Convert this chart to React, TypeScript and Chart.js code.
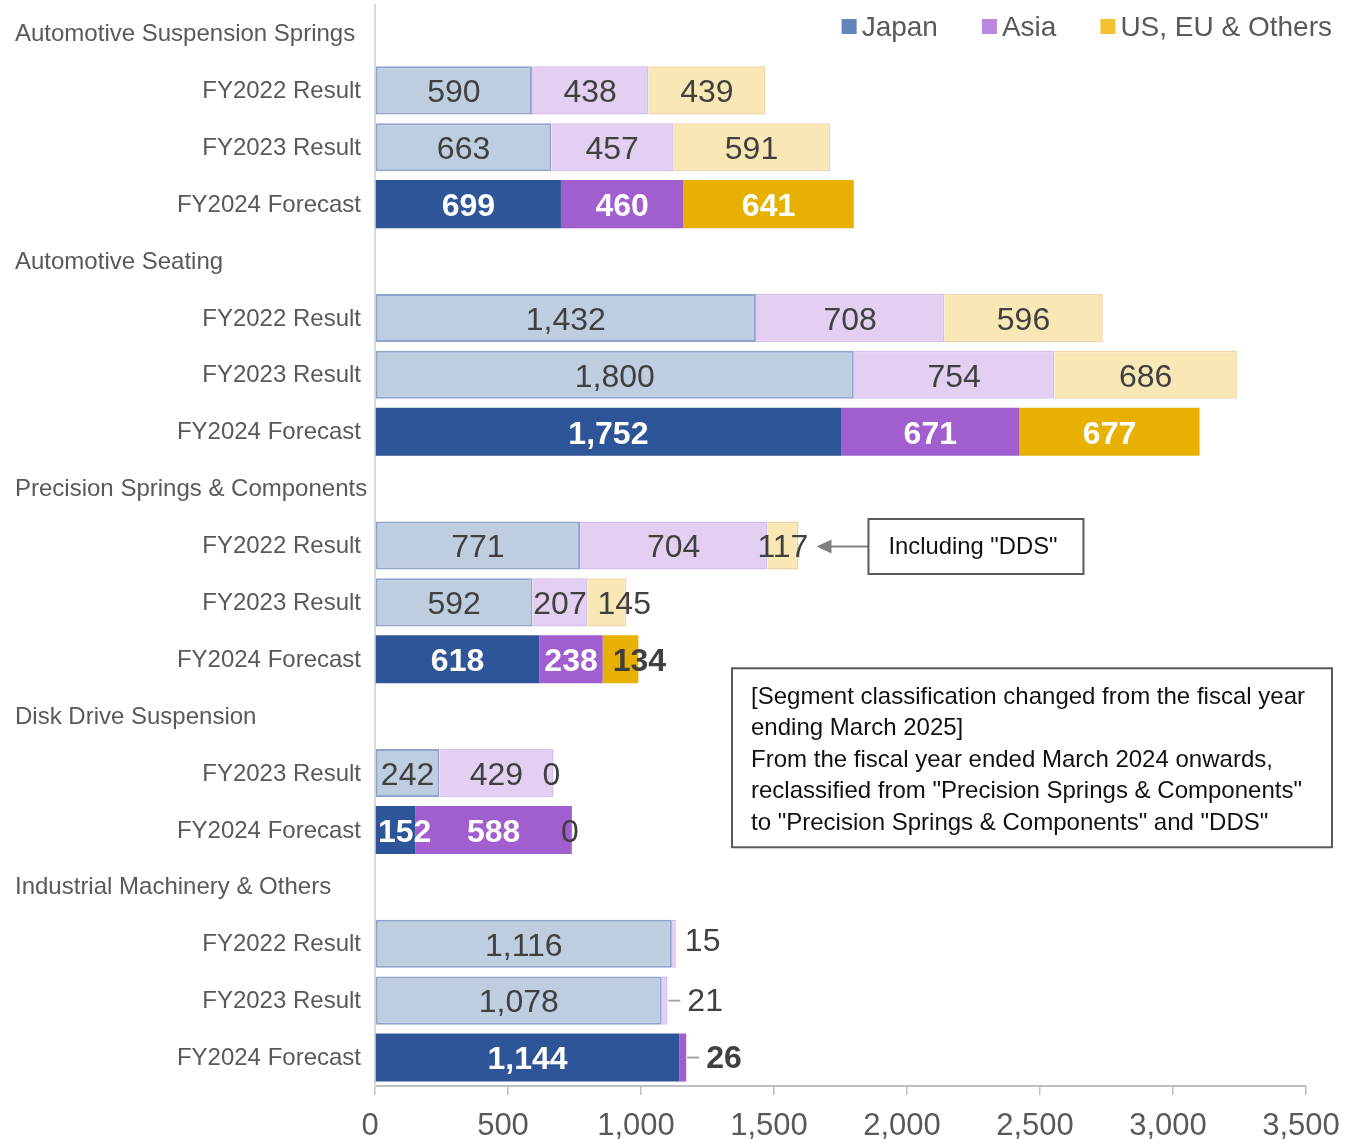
import React, { useEffect, useRef } from 'react';
import { Chart, registerables } from 'chart.js';

Chart.register(...registerables);

const categories = [
  'Automotive Suspension Springs', 'FY2022 Result', 'FY2023 Result', 'FY2024 Forecast',
  'Automotive Seating', 'FY2022 Result', 'FY2023 Result', 'FY2024 Forecast',
  'Precision Springs & Components', 'FY2022 Result', 'FY2023 Result', 'FY2024 Forecast',
  'Disk Drive Suspension', 'FY2023 Result', 'FY2024 Forecast',
  'Industrial Machinery & Others', 'FY2022 Result', 'FY2023 Result', 'FY2024 Forecast',
];
const rowKinds = [
  'header', 'result', 'result', 'forecast',
  'header', 'result', 'result', 'forecast',
  'header', 'result', 'result', 'forecast',
  'header', 'result', 'forecast',
  'header', 'result', 'result', 'forecast',
];
const seriesNames = ['Japan', 'Asia', 'US, EU & Others'];
const japan = [null, 590, 663, 699, null, 1432, 1800, 1752, null, 771, 592, 618, null, 242, 152, null, 1116, 1078, 1144];
const asia = [null, 438, 457, 460, null, 708, 754, 671, null, 704, 207, 238, null, 429, 588, null, 15, 21, 26];
const usEu = [null, 439, 591, 641, null, 596, 686, 677, null, 117, 145, 134, null, 0, 0, null, null, null, null];
const xMax = 3500;
const xStep = 500;
const calloutRow = 9;
const calloutText = 'Including "DDS"';
const noteLines = [
  '[Segment classification changed from the fiscal year',
  'ending March 2025]',
  'From the fiscal year ended March 2024 onwards,',
  'reclassified from "Precision Springs & Components"',
  'to "Precision Springs & Components" and "DDS"',
];

const FONT = "'Liberation Sans', Arial, Helvetica, sans-serif";
const resultFill = ['#BFCDE1', '#E2CFF1', '#F9E8B6'];
const resultBorder = ['#8FA3CF', '#D6BDEE', '#EFD3A4'];
const forecastFill = ['#2E5597', '#A05ECF', '#E8B000'];
const legendColors = ['#6384BD', '#BA88DE', '#F3C232'];
const textGray = '#595959';
const labelDark = '#404040';
const LABEL_SIZE = 32;

const overlayPlugin = {
  id: 'overlay',
  afterDatasetsDraw(chart: any) {
    const ctx = chart.ctx as CanvasRenderingContext2D;
    const yScale = chart.scales.y;
    const area = chart.chartArea;
    ctx.save();

    // row labels
    ctx.textBaseline = 'middle';
    categories.forEach((c, j) => {
      const y = yScale.getPixelForValue(j) + 1;
      ctx.fillStyle = textGray;
      ctx.font = `24px ${FONT}`;
      if (rowKinds[j] === 'header') {
        ctx.textAlign = 'left';
        ctx.fillText(c, 15, y);
      } else {
        ctx.textAlign = 'right';
        ctx.fillText(c, area.left - 14, y);
      }
    });

    // data labels
    const series = [japan, asia, usEu];
    series.forEach((arr, i) => {
      const meta = chart.getDatasetMeta(i);
      arr.forEach((v, j) => {
        if (v === null || v === undefined) return;
        const el = meta.data[j];
        if (!el) return;
        const p = el.getProps(['x', 'base', 'y'], true);
        const left = Math.min(p.x, p.base);
        const right = Math.max(p.x, p.base);
        const w = right - left;
        const forecast = rowKinds[j] === 'forecast';
        const text = v.toLocaleString('en-US');
        const bold = forecast;
        let color = forecast ? '#FFFFFF' : labelDark;
        ctx.font = `${bold ? 'bold ' : ''}${LABEL_SIZE}px ${FONT}`;
        const tw = ctx.measureText(text).width;
        ctx.textBaseline = 'middle';
        const ty = p.y + 3;
        if (v === 0) {
          ctx.font = `${LABEL_SIZE}px ${FONT}`;
          ctx.textAlign = 'center';
          ctx.fillStyle = labelDark;
          ctx.fillText(text, right - 2, ty);
          return;
        }
        if (w < 14) {
          // outside label with optional leader line
          const leader = rowKinds[j - 1] !== 'header';
          ctx.fillStyle = labelDark;
          ctx.textAlign = 'left';
          if (leader) {
            ctx.strokeStyle = '#A6A6A6';
            ctx.lineWidth = 2;
            ctx.beginPath();
            ctx.moveTo(right + 1, p.y);
            ctx.lineTo(right + 13, p.y);
            ctx.stroke();
            ctx.fillText(text, right + 20, ty - 1);
          } else {
            ctx.fillText(text, right + 9, ty - 5);
          }
          return;
        }
        if (forecast && i === 2 && tw > w) color = labelDark;
        let cx = (left + right) / 2;
        // narrow trailing segment after a narrow one: nudge label right
        if (i === 2 && tw > w) {
          const prev = chart.getDatasetMeta(1).data[j].getProps(['x', 'base'], true);
          const pw = Math.abs(prev.x - prev.base);
          if (pw < 70) cx = left + 10 + tw / 2;
        }
        // keep label clear of the axis
        if (cx - tw / 2 < area.left + 3) cx = area.left + 3 + tw / 2;
        ctx.fillStyle = color;
        ctx.textAlign = 'center';
        ctx.fillText(text, cx, ty);
      });
    });

    // legend
    ctx.font = `28px ${FONT}`;
    ctx.textBaseline = 'middle';
    ctx.textAlign = 'left';
    let xr = chart.width - 13;
    const ly = 27;
    const positions: number[] = [];
    for (let i = seriesNames.length - 1; i >= 0; i--) {
      const tw = ctx.measureText(seriesNames[i]).width;
      const tx = xr - tw;
      positions[i] = tx;
      xr = tx - 20 - 44;
    }
    seriesNames.forEach((n, i) => {
      const tx = positions[i];
      ctx.fillStyle = legendColors[i];
      ctx.fillRect(tx - 20, ly - 8, 15, 15);
      ctx.fillStyle = textGray;
      ctx.fillText(n, tx, ly + 1);
    });

    // callout "Including DDS"
    {
      const meta = chart.getDatasetMeta(2);
      const el = meta.data[calloutRow];
      const p = el.getProps(['x', 'base', 'y'], true);
      const tipX = Math.max(p.x, p.base) + 18;
      const cy = p.y + 1;
      const boxX = tipX + 52;
      const boxW = 215;
      const boxH = 55;
      ctx.strokeStyle = '#808080';
      ctx.fillStyle = '#808080';
      ctx.lineWidth = 2;
      ctx.beginPath();
      ctx.moveTo(boxX, cy);
      ctx.lineTo(tipX + 12, cy);
      ctx.stroke();
      ctx.beginPath();
      ctx.moveTo(tipX, cy);
      ctx.lineTo(tipX + 15, cy - 7);
      ctx.lineTo(tipX + 15, cy + 7);
      ctx.closePath();
      ctx.fill();
      ctx.fillStyle = '#FFFFFF';
      ctx.fillRect(boxX, cy - boxH / 2, boxW, boxH);
      ctx.strokeStyle = '#595959';
      ctx.strokeRect(boxX, cy - boxH / 2, boxW, boxH);
      ctx.font = `24px ${FONT}`;
      ctx.fillStyle = '#111111';
      ctx.textAlign = 'left';
      const tw = ctx.measureText(calloutText).width;
      const sx = 169 / tw;
      ctx.save();
      ctx.translate(boxX + 20, cy + 1);
      ctx.scale(sx, 1);
      ctx.fillText(calloutText, 0, 0);
      ctx.restore();
    }

    // note box
    {
      const boxRight = area.right + 26;
      const boxW = 600;
      const boxX = boxRight - boxW;
      const boxTop = yScale.getPixelForValue(11) + 9;
      const boxH = 179;
      ctx.fillStyle = '#FFFFFF';
      ctx.fillRect(boxX, boxTop, boxW, boxH);
      ctx.strokeStyle = '#595959';
      ctx.lineWidth = 2;
      ctx.strokeRect(boxX, boxTop, boxW, boxH);
      ctx.font = `24px ${FONT}`;
      ctx.fillStyle = '#111111';
      ctx.textAlign = 'left';
      ctx.textBaseline = 'middle';
      const tw = ctx.measureText(noteLines[0]).width;
      const sx = 554 / tw;
      noteLines.forEach((line, k) => {
        ctx.save();
        ctx.translate(boxX + 19, boxTop + 29 + k * 31.5);
        ctx.scale(sx, 1);
        ctx.fillText(line, 0, 0);
        ctx.restore();
      });
    }

    ctx.restore();
  },
};

export default function App() {
  const canvasRef = useRef<HTMLCanvasElement | null>(null);

  useEffect(() => {
    document.body.style.margin = '0';
    const canvas = canvasRef.current;
    if (!canvas) return;
    const fillFor = (i: number) => rowKinds.map((k) => (k === 'forecast' ? forecastFill[i] : resultFill[i]));
    const borderFor = (i: number) => rowKinds.map((k) => (k === 'forecast' ? forecastFill[i] : resultBorder[i]));
    const borderWidthFor = (i: number) => rowKinds.map((k) => (k === 'result' ? (i === 0 ? 2 : 1.5) : 0));
    const series = [japan, asia, usEu];
    const chart = new Chart(canvas, {
      type: 'bar',
      data: {
        labels: categories,
        datasets: series.map((arr, i) => ({
          label: seriesNames[i],
          data: arr as any,
          backgroundColor: fillFor(i),
          borderColor: borderFor(i),
          borderWidth: borderWidthFor(i),
          borderSkipped: i === 0 ? false : 'start',
          barPercentage: 0.845,
          categoryPercentage: 1,
        })),
      },
      options: {
        indexAxis: 'y',
        responsive: false,
        animation: false,
        devicePixelRatio: 1,
        layout: { padding: { left: 375, right: 39, top: 5, bottom: 0 } },
        plugins: {
          legend: { display: false },
          tooltip: { enabled: false },
        },
        scales: {
          x: {
            stacked: true,
            min: 0,
            max: xMax,
            ticks: {
              stepSize: xStep,
              color: textGray,
              font: { size: 31, family: FONT },
              padding: 13,
              labelOffset: -5,
              maxRotation: 0,
            },
            grid: {
              drawOnChartArea: false,
              drawTicks: true,
              tickLength: 9,
              color: '#BFBFBF',
              lineWidth: 1.5,
            },
            border: { color: '#BFBFBF', width: 2 },
            afterFit: (s: any) => {
              s.height = 53;
              s.paddingLeft = 0;
              s.paddingRight = 0;
            },
          },
          y: {
            stacked: true,
            ticks: { display: false },
            grid: { display: false },
            border: { color: '#D9D9D9', width: 2 },
            afterFit: (s: any) => {
              s.width = 0;
              s.paddingTop = 0;
              s.paddingBottom = 0;
            },
          },
        },
      } as any,
      plugins: [overlayPlugin],
    });
    return () => chart.destroy();
  }, []);

  return (
    <div style={{ width: 1345, height: 1139, position: 'relative' }}>
      <canvas ref={canvasRef} width={1345} height={1139} style={{ display: 'block' }} />
    </div>
  );
}
